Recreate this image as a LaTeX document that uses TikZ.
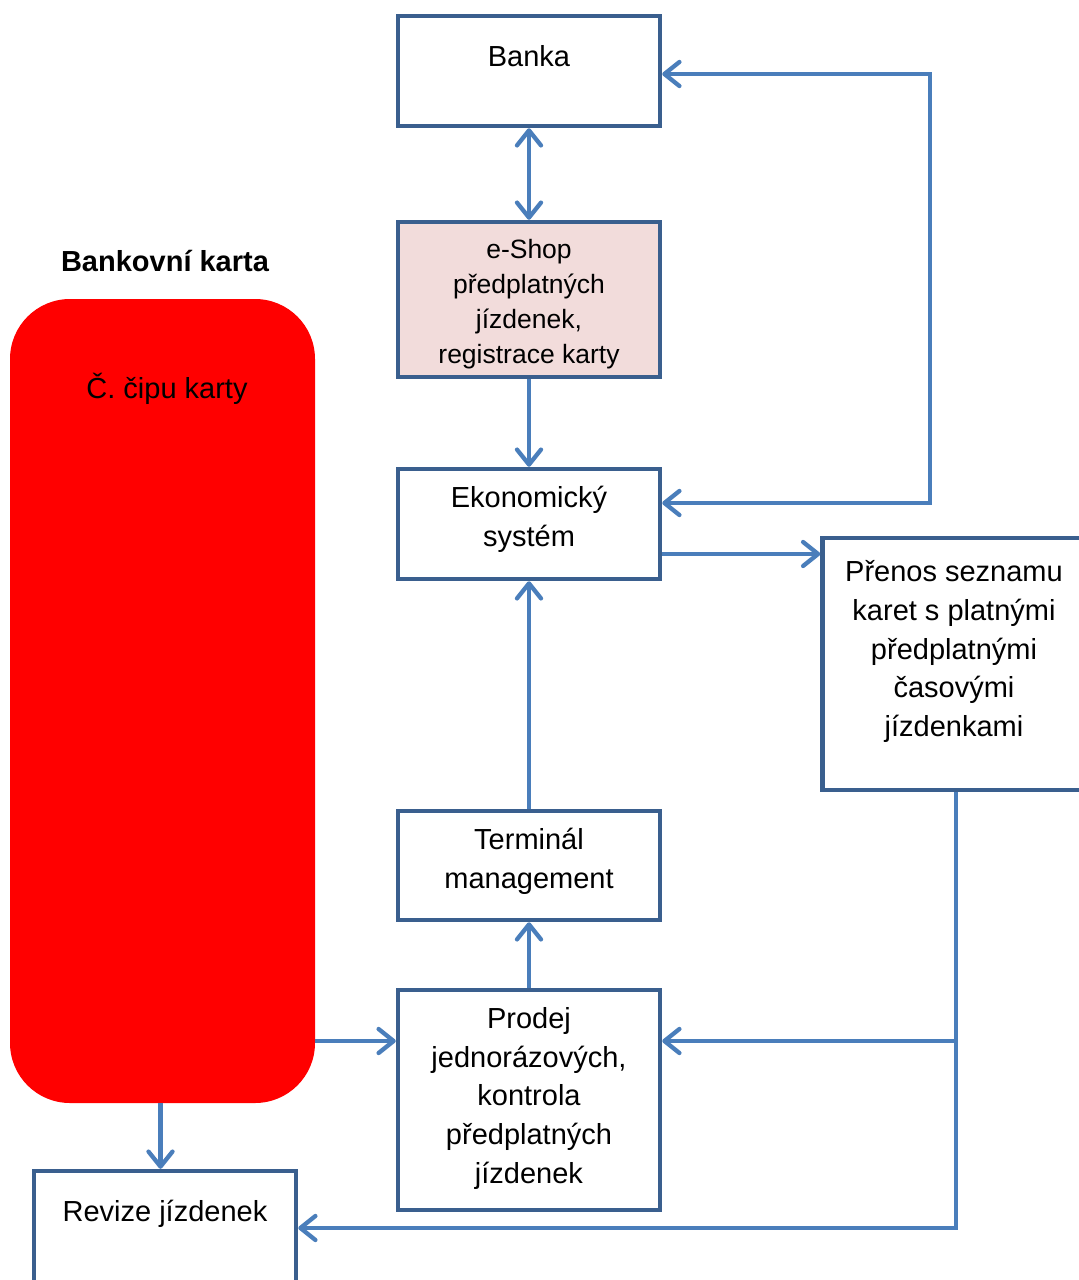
\documentclass[tikz,border=0pt]{standalone}
\usepackage{fontspec}
\setmainfont{Liberation Sans}
\usetikzlibrary{arrows.meta,calc}

\definecolor{boxline}{HTML}{3A5F8E}
\definecolor{flow}{HTML}{4A7EBB}
\definecolor{shopfill}{HTML}{F2DCDB}
\definecolor{cardred}{HTML}{FF0000}

\tikzset{
  box/.style={draw=boxline, line width=4.5pt, fill=white, inner sep=0pt},
  txt/.style={align=center, inner sep=0pt, font=\fontsize{29}{38.7}\selectfont},
  smalltxt/.style={align=center, inner sep=0pt, font=\fontsize{26.5}{35}\selectfont},
  flowline/.style={draw=flow, line width=4.3pt,
    arrows={-Straight Barb[length=15pt,width=24pt,line cap=round,line join=round]}},
  flowboth/.style={flowline,
    arrows={Straight Barb[length=15pt,width=24pt,line cap=round,line join=round]-Straight Barb[length=15pt,width=24pt,line cap=round,line join=round]}},
  plainline/.style={draw=flow, line width=4.3pt}
}

\begin{document}
\begin{tikzpicture}[x=1pt,y=-1pt]
  \useasboundingbox (0,0) rectangle (1079,1280);
  \clip (0,0) rectangle (1079,1280);

  % card
  \node[fill=cardred, rounded corners=60pt, minimum width=305pt, minimum height=804pt, inner sep=0pt]
    (card) at (162.5,701) {};
  \node[txt, font=\fontsize{29}{38.7}\selectfont\bfseries] (cardtitle) at (165,264) {\strut Bankovní karta};
  \node[txt] (cardtext) at (167,391) {\strut Č. čipu karty};

  % boxes
  \node[box, minimum width=262pt, minimum height=110pt] (banka) at (529,71) {};
  \node[box, fill=shopfill, minimum width=262pt, minimum height=155pt] (eshop) at (529,299.5) {};
  \node[box, minimum width=262pt, minimum height=110pt] (ekon) at (529,524) {};
  \node[box, minimum width=267pt, minimum height=252pt] (prenos) at (956,664) {};
  \node[box, minimum width=262pt, minimum height=109pt] (term) at (529,865.5) {};
  \node[box, minimum width=262pt, minimum height=220pt] (prodej) at (529,1100) {};
  \node[box, minimum width=262pt, minimum height=129pt] (revize) at (165,1235.5) {};

  % box texts
  \node[txt] (banka-t) at (529,59) {\strut Banka};
  \node[smalltxt] (eshop-t) at (529,304) {\strut e-Shop\\\strut předplatných\\\strut jízdenek,\\\strut registrace karty};
  \node[txt] (ekon-t) at (529,519.5) {\strut Ekonomický\\\strut systém};
  \node[txt] (prenos-t) at (954,651.5) {\strut Přenos seznamu\\\strut karet s platnými\\\strut předplatnými\\\strut časovými\\\strut jízdenkami};
  \node[txt] (term-t) at (529,861.5) {\strut Terminál\\\strut management};
  \node[txt] (prodej-t) at (529,1098) {\strut Prodej\\\strut jednorázových,\\\strut kontrola\\\strut předplatných\\\strut jízdenek};
  \node[txt] (revize-t) at (165,1214) {\strut Revize jízdenek};

  % routing points
  \coordinate (rt) at (930,74);
  \coordinate (rb) at (930,503);
  \coordinate (j1) at (956,1041);
  \coordinate (j2) at (956,1228);
  \coordinate (ek) at ($(ekon.east)+(0,30)$);

  % connectors
  \draw[flowboth] (banka.south) -- (eshop.north);
  \draw[flowline] (eshop.south) -- (ekon.north);
  \draw[flowboth] (banka.east |- rt) -- (rt) -- (rb) -- (ekon.east |- rb);
  \draw[flowline] (ek) -- (prenos.west |- ek);
  \draw[flowline] (term.north) -- (ekon.south);
  \draw[flowline] (prodej.north) -- (term.south);
  \draw[flowline] (card.east |- j1) -- (prodej.west |- j1);
  \draw[flowline] ($(card.south)+(-2,0)$) -- ($(card.south |- revize.north)+(-2,0)$);
  \draw[plainline] (prenos.south) -- (j1);
  \draw[flowline] (j1) -- (prodej.east |- j1);
  \draw[flowline] (j1) -- (j2) -- (revize.east |- j2);
\end{tikzpicture}
\end{document}
